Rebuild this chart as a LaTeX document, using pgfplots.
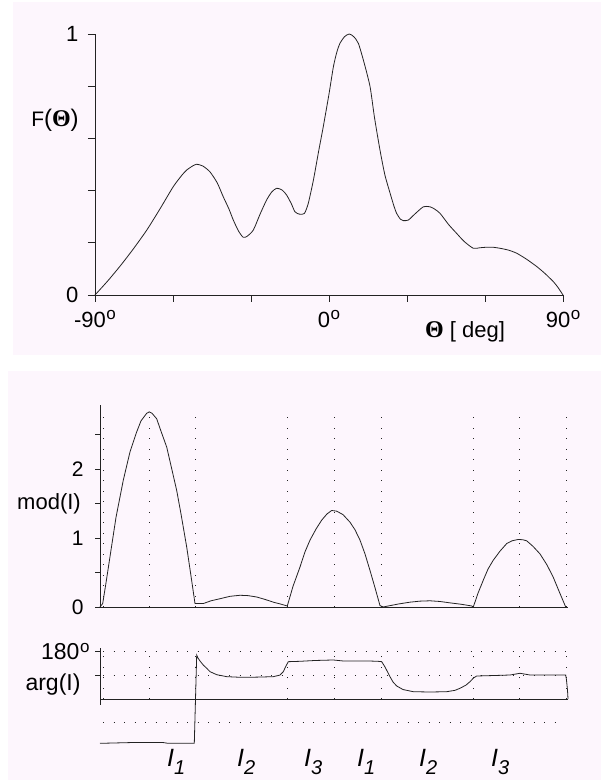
\documentclass[border=0pt]{standalone}
\usepackage{pgfplots}
\pgfplotsset{compat=1.18}
\usepackage{fontspec}
\setmainfont{Liberation Sans}
\newfontfamily\serifTh{Liberation Serif}
\definecolor{bgpink}{RGB}{253,246,253}
\definecolor{ink}{RGB}{35,35,35}
\newcommand\fs[1]{\fontsize{#1}{#1}\selectfont}
\newcommand\dg{\hspace{0.5pt}\raisebox{7.5pt}{\fs{17}o}}
\newcommand\Ilab[1]{{\fs{25}\itshape I}\raisebox{-8pt}{\fs{20}\itshape #1}}
\begin{document}
\begin{tikzpicture}[x=1pt,y=1pt]
\fill[bgpink] (13,425) rectangle (601,778);
\fill[bgpink] (8,0) rectangle (601,409);
% ---------------- panel 1 ----------------
\begin{axis}[at={(95pt,485pt)}, anchor=south west, scale only axis,
  width=468pt, height=261pt, xmin=-90, xmax=90, ymin=0, ymax=1,
  axis lines=left, axis line style={-, line width=0.8pt, ink},
  tick align=outside, major tick length=7pt,
  tick style={line width=0.8pt, ink},
  xtick={-90,-60,-30,0,30,60,90},
  xticklabels={-90\dg,,,0\dg,,,90\dg},
  ytick={0,0.2,0.4,0.6,0.8,1},
  yticklabels={0,,,,,1},
  tick label style={font=\fs{22}},
  yticklabel style={xshift=-6pt},
  xticklabel style={yshift=-5pt},
  clip=false]
\addplot[ink, line width=0.8pt, smooth, tension=0.4] coordinates {
(-90,0) (-85,0.055) (-80,0.115) (-75,0.18) (-70,0.25) (-65,0.33)
(-59.9,0.415) (-56.5,0.46) (-54.7,0.479) (-52.5,0.494) (-50.9,0.501)
(-48.5,0.494) (-45.8,0.472) (-43,0.43) (-40.7,0.377) (-38.5,0.33)
(-36.8,0.287) (-34.8,0.245) (-33.0,0.221) (-31.5,0.225) (-29.1,0.249)
(-26.5,0.31) (-24.0,0.364) (-22,0.395) (-20.1,0.409) (-18,0.402)
(-16.3,0.383) (-14.5,0.35) (-13.1,0.319) (-11.5,0.31) (-9.5,0.312)
(-8,0.35) (-6.0,0.44) (-4,0.55) (-2.2,0.645) (0,0.77) (1.7,0.875)
(3,0.93) (4.2,0.964) (6,0.99) (7.8,1.0) (9.5,0.99) (11.3,0.964)
(13.5,0.89) (15.8,0.798) (17.5,0.68) (19.6,0.556) (21.5,0.46)
(23.5,0.39) (25,0.34) (26.0,0.313) (27.5,0.29) (28.6,0.285)
(30.5,0.287) (33,0.31) (36.3,0.338) (38.8,0.338) (40.5,0.33)
(42.7,0.313) (46,0.27) (49.1,0.236) (52,0.205) (55.5,0.179)
(58,0.181) (60.6,0.183) (63,0.183) (65.8,0.179) (69,0.172)
(72.2,0.160) (76,0.137) (79.9,0.109) (83,0.083) (86.3,0.051)
(88,0.03) (90,0)};
\end{axis}
\node at (55,660) {{\fs{21}F}{\fs{24}({\serifTh\bfseries Θ})}};
\node[anchor=base] at (465,442) {{\fs{24}\serifTh\bfseries Θ}{\fs{22} [ deg]}};
% ---------------- panel 2 ----------------
\begin{axis}[at={(100pt,173pt)}, anchor=south west, scale only axis,
  width=468pt, height=202pt, xmin=100, xmax=568, ymin=0, ymax=2.93,
  axis lines=left, axis line style={-, line width=0.8pt, ink},
  tick align=outside, major tick length=5pt,
  tick style={line width=0.8pt, ink},
  xtick=\empty,
  ytick={0,0.5,1,1.5,2,2.5},
  yticklabels={0,,1,,2,},
  tick label style={font=\fs{21}},
  yticklabel style={xshift=-8pt},
  clip=false]
\pgfplotsinvokeforeach{103,149,195,287,334,381,473,519,566}{
  \draw[ink, line width=0.9pt, dash pattern=on 0.9pt off 9.6pt] (axis cs:#1,0) -- (axis cs:#1,2.78);}
\addplot[ink, line width=0.8pt] coordinates {
(100,0) (102.7,0.05) (106,0.35) (110,0.73) (116,1.3) (123.3,1.84)
(130,2.25) (136.7,2.54) (141,2.7) (146.7,2.81) (149.3,2.83) (152,2.81)
(156.7,2.73) (161,2.55) (166.7,2.32) (171,2.05) (176.7,1.69) (181,1.35)
(186.7,0.87) (191,0.45) (195,0.05) (203.3,0.05) (211,0.09) (220,0.12)
(230,0.155) (240,0.17) (248,0.165) (256.7,0.145) (265,0.11) (273.3,0.07)
(280,0.045) (287.3,0.015) (293,0.3) (300,0.58) (305,0.8) (310,0.97)
(316,1.13) (321.7,1.26) (327,1.35) (331.7,1.40) (336.7,1.39) (343,1.34)
(350,1.23) (355,1.12) (360,0.97) (365,0.77) (370,0.53) (375,0.28)
(380,0.02) (383.3,0) (388.3,0.015) (399,0.045) (410,0.07) (420,0.085)
(430,0.09) (440,0.08) (450,0.06) (461,0.04) (471.7,0.015) (473.3,0)
(478,0.2) (483.3,0.39) (488,0.55) (493.3,0.68) (500,0.81) (506.7,0.92)
(512,0.96) (518.3,0.98) (523,0.975) (526.7,0.96) (533,0.88) (540,0.77)
(547,0.61) (553.3,0.43) (559,0.23) (565.7,0)};
\end{axis}
\node at (49,276) {\fs{22}mod(I)};
% ---------------- panel 3 ----------------
\begin{axis}[at={(100pt,75pt)}, anchor=south west, scale only axis,
  width=468pt, height=57pt, xmin=100, xmax=568, ymin=-22.8, ymax=194,
  axis x line=none, axis y line=left,
  axis line style={-, line width=0.8pt, ink},
  tick align=outside, major tick length=5pt,
  tick style={line width=0.8pt, ink},
  ytick={90,180},
  yticklabels={,180\dg},
  tick label style={font=\fs{23}},
  yticklabel style={xshift=-2pt},
  clip=false]
\pgfplotsinvokeforeach{103,149,195,287,334,381,473,519,566}{
  \draw[ink, line width=0.9pt, dash pattern=on 0.9pt off 9.6pt] (axis cs:#1,0) -- (axis cs:#1,180);}
\draw[ink, line width=0.9pt, dash pattern=on 0.9pt off 9.6pt] (axis cs:103,180) -- (axis cs:568,180);
\draw[ink, line width=0.9pt, dash pattern=on 0.9pt off 9.6pt] (axis cs:103,90) -- (axis cs:568,90);
\draw[ink, line width=0.9pt, dash pattern=on 0.9pt off 9.6pt] (axis cs:103,-90) -- (axis cs:563,-90);
\draw[ink, line width=0.8pt] (axis cs:100,0) -- (axis cs:568,0);
\addplot[ink, line width=0.8pt] coordinates {
(100,-168.6) (133,-165.5) (163,-165.5) (168,-168.6) (194.3,-168.6) (196.7,167)
(198,156) (200,144.6) (203.3,129) (206.7,117) (210,104) (216.7,92.5)
(226.7,85) (240,82.6) (250,82.6) (262,83.7) (273.3,85) (280,91)
(283.3,104) (286,125.6) (288.3,142) (300,143.4) (315,146.5) (333.3,148.4)
(343.3,144.6) (368.3,144.6) (378,143.4) (381.7,142) (385,121.8) (390,84.9)
(393,64.7) (396.7,49.5) (403,36) (413.3,27.8) (430,26.6) (446.7,27.8)
(455,33) (460,40.7) (466,53) (470,65.8) (473.5,80) (476.7,87.5)
(500,90) (510,91.3) (520,97.8) (530,91.3) (565.7,91.3) (566.5,72)
(567.5,34) (568,0)};
\end{axis}
\node[anchor=east] at (84,95) {\fs{23}arg(I)};
\node[anchor=base west, inner sep=0] at (167,13) {\Ilab{1}};
\node[anchor=base west, inner sep=0] at (237,13) {\Ilab{2}};
\node[anchor=base west, inner sep=0] at (304,13) {\Ilab{3}};
\node[anchor=base west, inner sep=0] at (357,13) {\Ilab{1}};
\node[anchor=base west, inner sep=0] at (419,13) {\Ilab{2}};
\node[anchor=base west, inner sep=0] at (491,13) {\Ilab{3}};
\pgfresetboundingbox
\path[use as bounding box] (0,0) rectangle (601,780);
\end{tikzpicture}
\end{document}
